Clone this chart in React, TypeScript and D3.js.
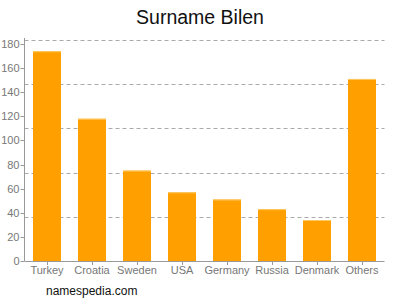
import React from "react";
import * as d3 from "d3";

const categories = ["Turkey", "Croatia", "Sweden", "USA", "Germany", "Russia", "Denmark", "Others"];
const values = [174, 118, 75, 57, 51, 43, 34, 151];
const yTicks = [0, 20, 40, 60, 80, 100, 120, 140, 160, 180];
const gridValues = [36.7, 73.4, 110.1, 146.8, 183.5];
const title = "Surname Bilen";
const footer = "namespedia.com";

export default function App() {
  const W = 400, H = 300;
  const left = 24.5, right = 384.5, bottom = 261, top = 44;
  const x = d3.scaleBand<string>().domain(categories).range([left, right]).paddingInner(0.378).paddingOuter(0.189);
  const y = d3.scaleLinear().domain([0, 180]).range([bottom, top]);
  const font = "'Liberation Sans', Arial, sans-serif";
  return (
    <svg width={W} height={H} style={{ position: "absolute", left: 0, top: 0 }} fontFamily={font}>
      <rect width={W} height={H} fill="#fff" />
      <text x={200} y={24} textAnchor="middle" fontSize={19.5} fill="#111">{title}</text>
      {gridValues.map((g) => (
        <line key={g} x1={left} x2={right} y1={Math.round(y(g)) + 0.5} y2={Math.round(y(g)) + 0.5}
          stroke="#aaa" strokeDasharray="4,3" strokeWidth={1} />
      ))}
      {categories.map((c, i) => (
        <g key={c}>
          <rect x={x(c)} y={y(values[i])} width={x.bandwidth()} height={bottom - y(values[i])} fill="#FFA000" />
          <line x1={x(c)} x2={(x(c) as number) + x.bandwidth()} y1={y(values[i]) + 0.5} y2={y(values[i]) + 0.5} stroke="#FFC860" />
        </g>
      ))}
      <line x1={left} x2={left} y1={top - 6} y2={bottom} stroke="#999" />
      <line x1={left} x2={right} y1={bottom + 0.5} y2={bottom + 0.5} stroke="#999" />
      {yTicks.map((t) => (
        <g key={t}>
          <line x1={left - 4} x2={left} y1={Math.round(y(t)) + 0.5} y2={Math.round(y(t)) + 0.5} stroke="#999" />
          <text x={left - 5} y={y(t) + 4} textAnchor="end" fontSize={11} fill="#777">{t}</text>
        </g>
      ))}
      {categories.map((c) => {
        const cx = (x(c) as number) + x.bandwidth() / 2;
        return (
          <g key={c}>
            <line x1={Math.round(cx) + 0.5} x2={Math.round(cx) + 0.5} y1={bottom} y2={bottom + 4} stroke="#999" />
            <text x={cx} y={274} textAnchor="middle" fontSize={11} fill="#777">{c}</text>
          </g>
        );
      })}
      <text x={46} y={295} fontSize={12} fill="#111">{footer}</text>
    </svg>
  );
}
